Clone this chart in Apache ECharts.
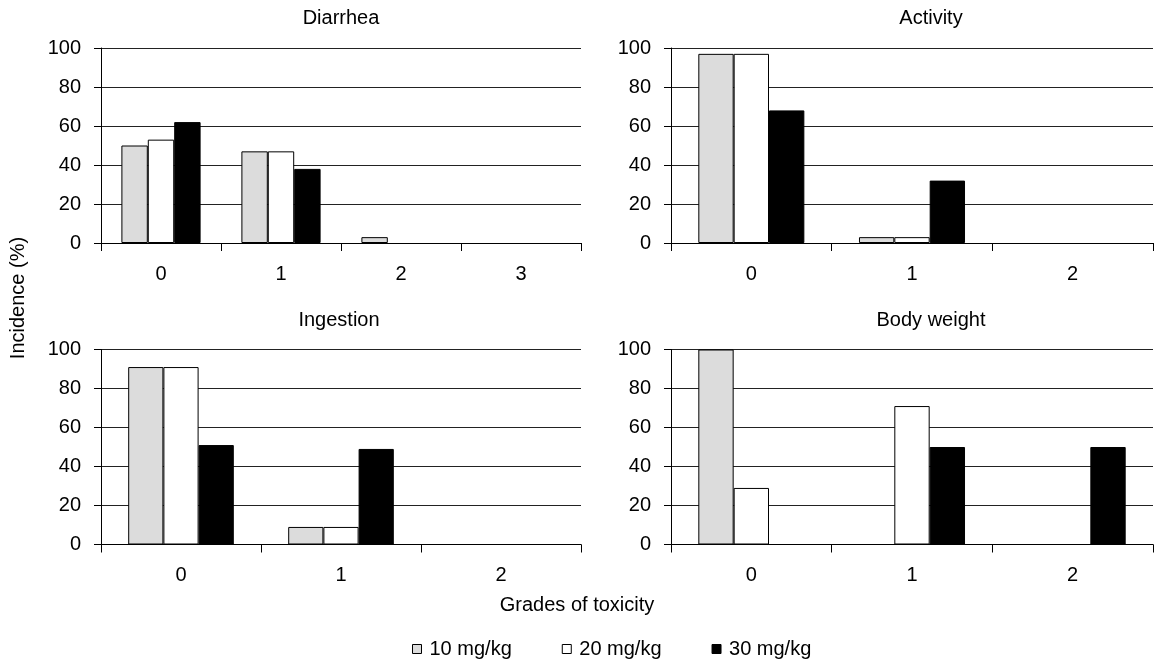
<!DOCTYPE html>
<html>
<head>
<meta charset="utf-8">
<script src="https://cdn.jsdelivr.net/npm/echarts@6/dist/echarts.min.js"></script>
<style>
html,body{margin:0;padding:0;background:#fff;}
#chart{width:1154px;height:664px;}
</style>
</head>
<body>
<div id="chart"></div>
<script>
// ---- data ----
const panelTitles = ['Diarrhea', 'Activity', 'Ingestion', 'Body weight'];
const seriesNames = ['10 mg/kg', '20 mg/kg', '30 mg/kg'];
const diarrheaGrades = ['0', '1', '2', '3'];
const activityGrades = ['0', '1', '2'];
const ingestionGrades = ['0', '1', '2'];
const bodyWeightGrades = ['0', '1', '2'];
const yTicks = [0, 20, 40, 60, 80, 100];

const diarrhea10 = [50, 47, 3, 0];
const diarrhea20 = [53, 47, 0, 0];
const diarrhea30 = [62, 38, 0, 0];

const activity10 = [97, 3, 0];
const activity20 = [97, 3, 0];
const activity30 = [68, 32, 0];

const ingestion10 = [91, 9, 0];
const ingestion20 = [91, 9, 0];
const ingestion30 = [51, 49, 0];

const bodyWeight10 = [100, 0, 0];
const bodyWeight20 = [29, 71, 0];
const bodyWeight30 = [0, 50, 50];

const xAxisTitle = 'Grades of toxicity';
const yAxisTitle = 'Incidence (%)';

// ---- layout / style ----
const FONT = "'Liberation Sans', Arial, sans-serif";
const fills = ['#dcdcdc', '#ffffff', '#000000'];
const panels = [
  { cats: diarrheaGrades, vals: [diarrhea10, diarrhea20, diarrhea30], grid: { left: 101, top: 48, width: 480, height: 195 }, tx: 341, ty: 18 },
  { cats: activityGrades, vals: [activity10, activity20, activity30], grid: { left: 671, top: 48, width: 482, height: 195 }, tx: 931, ty: 18 },
  { cats: ingestionGrades, vals: [ingestion10, ingestion20, ingestion30], grid: { left: 101, top: 349.5, width: 480, height: 195 }, tx: 339, ty: 320 },
  { cats: bodyWeightGrades, vals: [bodyWeight10, bodyWeight20, bodyWeight30], grid: { left: 671, top: 349.5, width: 482, height: 195 }, tx: 931, ty: 320 }
];

const grid = [], xAxis = [], yAxis = [], series = [], graphic = [];
panels.forEach((p, i) => {
  grid.push(Object.assign({ containLabel: false }, p.grid));
  xAxis.push({
    type: 'category', gridIndex: i, data: p.cats, boundaryGap: true,
    axisLine: { show: true, onZero: false, lineStyle: { color: '#000', width: 1 } },
    axisTick: { show: true, alignWithLabel: false, length: 8, lineStyle: { color: '#000' } },
    axisLabel: { color: '#000', fontSize: 20, fontFamily: FONT, margin: 21 },
    splitLine: { show: false }
  });
  yAxis.push({
    type: 'value', gridIndex: i, min: yTicks[0], max: yTicks[yTicks.length - 1], interval: yTicks[1] - yTicks[0],
    axisLine: { show: true, lineStyle: { color: '#000', width: 1 } },
    axisTick: { show: true, inside: false, length: 7, lineStyle: { color: '#000' } },
    axisLabel: { color: '#000', fontSize: 20, fontFamily: FONT, margin: 20 },
    splitLine: { show: true, lineStyle: { color: '#222', width: 1 } }
  });
  p.vals.forEach((v, k) => {
    series.push({
      type: 'bar', name: seriesNames[k], xAxisIndex: i, yAxisIndex: i,
      // zero-height bars are not outlined in the reference
      data: v.map(val => val === 0 ? { value: 0, itemStyle: { borderWidth: 0 } } : val),
      barGap: '0%', barCategoryGap: '34%',
      itemStyle: { color: fills[k], borderColor: '#000', borderWidth: 1 },
      emphasis: { disabled: true }, animation: false
    });
  });
  graphic.push({
    type: 'text', x: p.tx, y: p.ty,
    style: { text: panelTitles[i], font: '20px ' + FONT, fill: '#000', align: 'center', verticalAlign: 'middle' }
  });
});

graphic.push({
  type: 'text', x: 18, y: 298, rotation: Math.PI / 2,
  style: { text: yAxisTitle, font: '20px ' + FONT, fill: '#000', align: 'center', verticalAlign: 'middle' }
});
graphic.push({
  type: 'text', x: 577, y: 605,
  style: { text: xAxisTitle, font: '20px ' + FONT, fill: '#000', align: 'center', verticalAlign: 'middle' }
});

const chart = echarts.init(document.getElementById('chart'), null, { renderer: 'canvas' });
chart.setOption({
  backgroundColor: '#fff',
  animation: false,
  grid, xAxis, yAxis, series, graphic,
  legend: {
    data: seriesNames,
    left: 407, top: 634,
    icon: 'rect', itemWidth: 9, itemHeight: 9, itemGap: 50,
    itemStyle: { borderColor: '#000', borderWidth: 1 },
    textStyle: { color: '#000', fontSize: 20, fontFamily: FONT, padding: [0, 0, 0, 3] },
    selectedMode: false
  }
});
</script>
</body>
</html>
